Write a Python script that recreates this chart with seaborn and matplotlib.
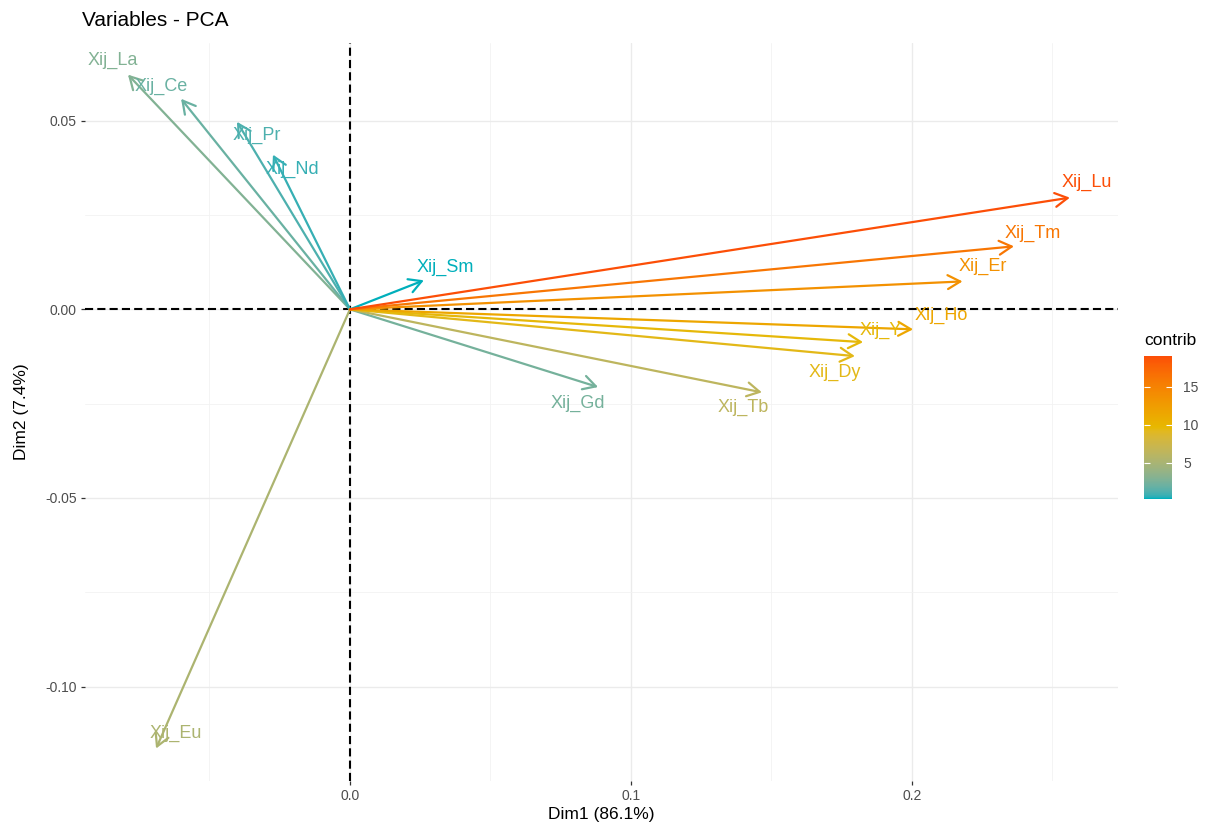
import numpy as np
import matplotlib
matplotlib.use("Agg")
import matplotlib.pyplot as plt
from matplotlib.colors import ListedColormap, Normalize
import seaborn as sns

variables = ["Xij_La", "Xij_Ce", "Xij_Pr", "Xij_Nd", "Xij_Sm", "Xij_Eu", "Xij_Gd",
             "Xij_Tb", "Xij_Dy", "Xij_Y", "Xij_Ho", "Xij_Er", "Xij_Tm", "Xij_Lu"]
dim1 = [-0.0790, -0.0601, -0.0402, -0.0274, 0.0263, -0.0690, 0.0883,
        0.1466, 0.1797, 0.1826, 0.2004, 0.2180, 0.2363, 0.2562]
dim2 = [0.0622, 0.0558, 0.0497, 0.0410, 0.0077, -0.1164, -0.0206,
        -0.0220, -0.0124, -0.0087, -0.0053, 0.0074, 0.0167, 0.0296]
contrib = [2.90, 1.93, 1.17, 0.70, 0.22, 5.22, 2.36,
           6.30, 9.31, 9.57, 11.54, 13.64, 16.08, 19.07]
gradient_cols = ["#00AFBB", "#E7B800", "#FC4E07"]
cbar_ticks = [5, 10, 15]

# label nudges away from the arrow tips (pixels, ggrepel-like)
label_offsets = {
    "Xij_La": (-15, 14), "Xij_Ce": (-20, 12), "Xij_Pr": (20, -14), "Xij_Nd": (19, -15),
    "Xij_Sm": (21, 13), "Xij_Eu": (20, 15), "Xij_Gd": (-20, -16), "Xij_Tb": (-19, -15),
    "Xij_Dy": (-20, -16), "Xij_Y": (18, 12), "Xij_Ho": (28, 14), "Xij_Er": (20, 15),
    "Xij_Tm": (19, 13), "Xij_Lu": (17, 15),
}


def hex_to_lab(hx):
    rgb = np.array([int(hx[i:i + 2], 16) for i in (1, 3, 5)]) / 255.0
    lin = np.where(rgb <= 0.04045, rgb / 12.92, ((rgb + 0.055) / 1.055) ** 2.4)
    m = np.array([[0.4124, 0.3576, 0.1805], [0.2126, 0.7152, 0.0722], [0.0193, 0.1192, 0.9505]])
    xyz = m @ lin / np.array([0.95047, 1.0, 1.08883])
    f = np.where(xyz > 0.008856, np.cbrt(xyz), 7.787 * xyz + 16 / 116)
    return np.array([116 * f[1] - 16, 500 * (f[0] - f[1]), 200 * (f[1] - f[2])])


def lab_to_rgb(lab):
    fy = (lab[1 - 1] + 16) / 116
    fx = fy + lab[1] / 500
    fz = fy - lab[2] / 200
    f = np.array([fx, fy, fz])
    xyz = np.where(f ** 3 > 0.008856, f ** 3, (f - 16 / 116) / 7.787) * np.array([0.95047, 1.0, 1.08883])
    m = np.array([[3.2406, -1.5372, -0.4986], [-0.9689, 1.8758, 0.0415], [0.0557, -0.2040, 1.0570]])
    lin = np.clip(m @ xyz, 0, 1)
    rgb = np.where(lin <= 0.0031308, 12.92 * lin, 1.055 * lin ** (1 / 2.4) - 0.055)
    return np.clip(rgb, 0, 1)


def lab_cmap(colors, n=256):
    labs = [hex_to_lab(c) for c in colors]
    pos = np.linspace(0, 1, len(colors))
    out = []
    for t in np.linspace(0, 1, n):
        k = min(np.searchsorted(pos, t, side="right") - 1, len(colors) - 2)
        u = (t - pos[k]) / (pos[k + 1] - pos[k])
        out.append(lab_to_rgb(labs[k] * (1 - u) + labs[k + 1] * u))
    return ListedColormap(out)


sns.set_theme(style="white")
plt.rcParams["font.family"] = ["Liberation Sans", "DejaVu Sans"]

cmap = lab_cmap(gradient_cols)
norm = Normalize(vmin=min(contrib), vmax=max(contrib))

fig = plt.figure(figsize=(12.07, 8.26), dpi=100)
ax = fig.add_axes([0.0704, 0.0545, 0.8558, 0.8935])
ax.set_xlim(-0.0943, 0.2733)
ax.set_ylim(-0.1250, 0.0706)

ax.set_xticks([0.0, 0.1, 0.2])
ax.set_xticklabels(["0.0", "0.1", "0.2"])
ax.set_yticks([-0.10, -0.05, 0.0, 0.05])
ax.set_yticklabels(["-0.10", "-0.05", "0.00", "0.05"])
ax.set_xticks([-0.05, 0.05, 0.15, 0.25], minor=True)
ax.set_yticks([-0.125, -0.075, -0.025, 0.025], minor=True)
ax.grid(True, which="major", color="#EBEBEB", linewidth=1.0)
ax.grid(True, which="minor", color="#F2F2F2", linewidth=0.6)
ax.set_axisbelow(True)
ax.tick_params(which="major", length=3, width=0.9, color="#333333", labelsize=10,
               labelcolor="#4D4D4D", pad=3, bottom=True, left=True)
ax.tick_params(which="minor", length=0)
sns.despine(ax=ax, left=True, bottom=True)

ax.axhline(0, color="black", linewidth=1.5, linestyle=(0, (3.9, 2.0)), zorder=2)
ax.axvline(0, color="black", linewidth=1.5, linestyle=(0, (3.9, 2.0)), zorder=2)

for name, x, y, c in zip(variables, dim1, dim2, contrib):
    col = cmap(norm(c))
    ax.annotate("", xy=(x, y), xytext=(0, 0),
                arrowprops=dict(arrowstyle="->,head_length=0.9,head_width=0.5",
                                mutation_scale=10, color=col, lw=1.6,
                                shrinkA=0, shrinkB=0), zorder=3)
    dx, dy = label_offsets[name]
    ax.annotate(name, xy=(x, y), xytext=(dx, dy), textcoords="offset pixels",
                ha="center", va="center", fontsize=13, color=col, zorder=4)

fig.text(82 / 1207, 1 - 20 / 826, "Variables - PCA", ha="left", va="center",
         fontsize=15, color="black")
fig.text(601 / 1207, 1 - 815 / 826, "Dim1 (86.1%)", ha="center", va="center",
         fontsize=12.5, color="black")
fig.text(22 / 1207, 1 - 412 / 826, "Dim2 (7.4%)", ha="center", va="center",
         rotation=90, fontsize=12.5, color="black")

cax = fig.add_axes([1144 / 1207, 1 - 499 / 826, 28 / 1207, 143 / 826])
sm = plt.cm.ScalarMappable(norm=norm, cmap=cmap)
cbar = fig.colorbar(sm, cax=cax)
cbar.outline.set_visible(False)
cbar.set_ticks(cbar_ticks)
cbar.ax.tick_params(length=0, labelsize=10, labelcolor="#4D4D4D", pad=8)
tr = cbar.ax.get_yaxis_transform()
cbar.ax.hlines(cbar_ticks, 0, 0.2, transform=tr, colors="white", linewidth=0.8)
cbar.ax.hlines(cbar_ticks, 0.8, 1, transform=tr, colors="white", linewidth=0.8)
fig.text(1144 / 1207, 1 - 340 / 826, "contrib", ha="left", va="center",
         fontsize=12.5, color="black")

fig.savefig("out.png", dpi=100)
plt.close(fig)
